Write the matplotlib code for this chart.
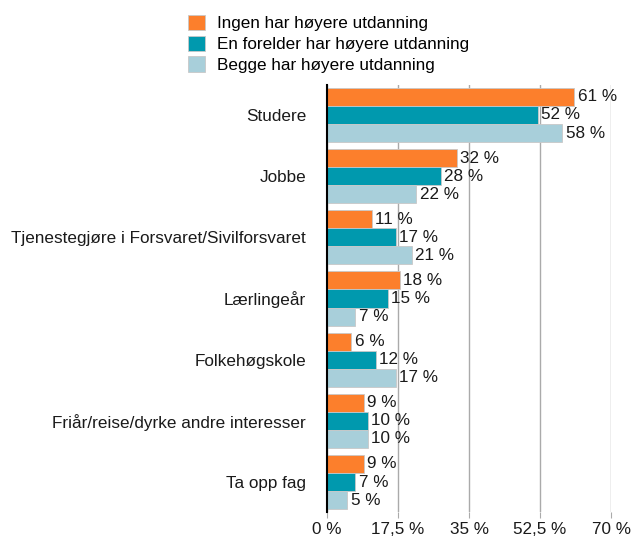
import matplotlib
matplotlib.use("Agg")
import matplotlib.pyplot as plt
import numpy as np

categories = ["Studere", "Jobbe", "Tjenestegjøre i Forsvaret/Sivilforsvaret",
              "Lærlingeår", "Folkehøgskole", "Friår/reise/dyrke andre interesser", "Ta opp fag"]
series_names = ["Ingen har høyere utdanning", "En forelder har høyere utdanning",
                "Begge har høyere utdanning"]
ingen = [61, 32, 11, 18, 6, 9, 9]
en = [52, 28, 17, 15, 12, 10, 7]
begge = [58, 22, 21, 7, 17, 10, 5]
xticks = [0, 17.5, 35, 52.5, 70]
xtick_labels = ["0 %", "17,5 %", "35 %", "52,5 %", "70 %"]

colors = ["#FC7F2C", "#0099AE", "#A8CFDA"]

plt.rcParams['font.family'] = ['Liberation Sans', 'DejaVu Sans']
fig = plt.figure(figsize=(6.31, 5.37), dpi=100)
W, H = 631, 537
ax = fig.add_axes([327 / W, 1 - 512 / H, (611 - 327) / W, (512 - 85) / H])

y = np.arange(len(categories))
bh = 0.295
fs = 12.3
tc = "#1a1a1a"
for k, (vals, c, name) in enumerate(zip([ingen, en, begge], colors, series_names)):
    pos = y + (k - 1) * bh
    ax.barh(pos, vals, height=bh, color=c, edgecolor="#c8c8c8", linewidth=0.6, label=name, zorder=3)
    for p, v in zip(pos, vals):
        ax.text(v + 0.8, p, f"{v} %", va="center", ha="left", fontsize=fs, color=tc, zorder=4)

ax.set_ylim(len(categories) - 1 + 0.49, -0.49)
ax.set_xlim(0, 70)
ax.set_yticks(y)
ax.set_yticklabels(categories, fontsize=fs, color=tc)
ax.tick_params(axis="y", length=0, pad=15)
ax.set_xticks(xticks)
ax.set_xticklabels(xtick_labels, fontsize=fs, color=tc)
ax.tick_params(axis="x", length=4, color="#aaaaaa", pad=3)
ax.grid(axis="x", color="#aaaaaa", linewidth=1, zorder=0)
for s in ["top", "right", "bottom"]:
    ax.spines[s].set_visible(False)
ax.spines["left"].set_color("black")
ax.spines["left"].set_linewidth(1.5)
ax.spines["left"].set_zorder(5)

handles, labels = ax.get_legend_handles_labels()
leg = fig.legend(handles, labels, loc="upper left", bbox_to_anchor=(181 / W, 1 - 8 / H),
                 frameon=False, fontsize=fs, handlelength=1.0, handleheight=1.0,
                 handletextpad=0.7, labelspacing=0.25, borderaxespad=0)

fig.savefig("out.png", dpi=100)
